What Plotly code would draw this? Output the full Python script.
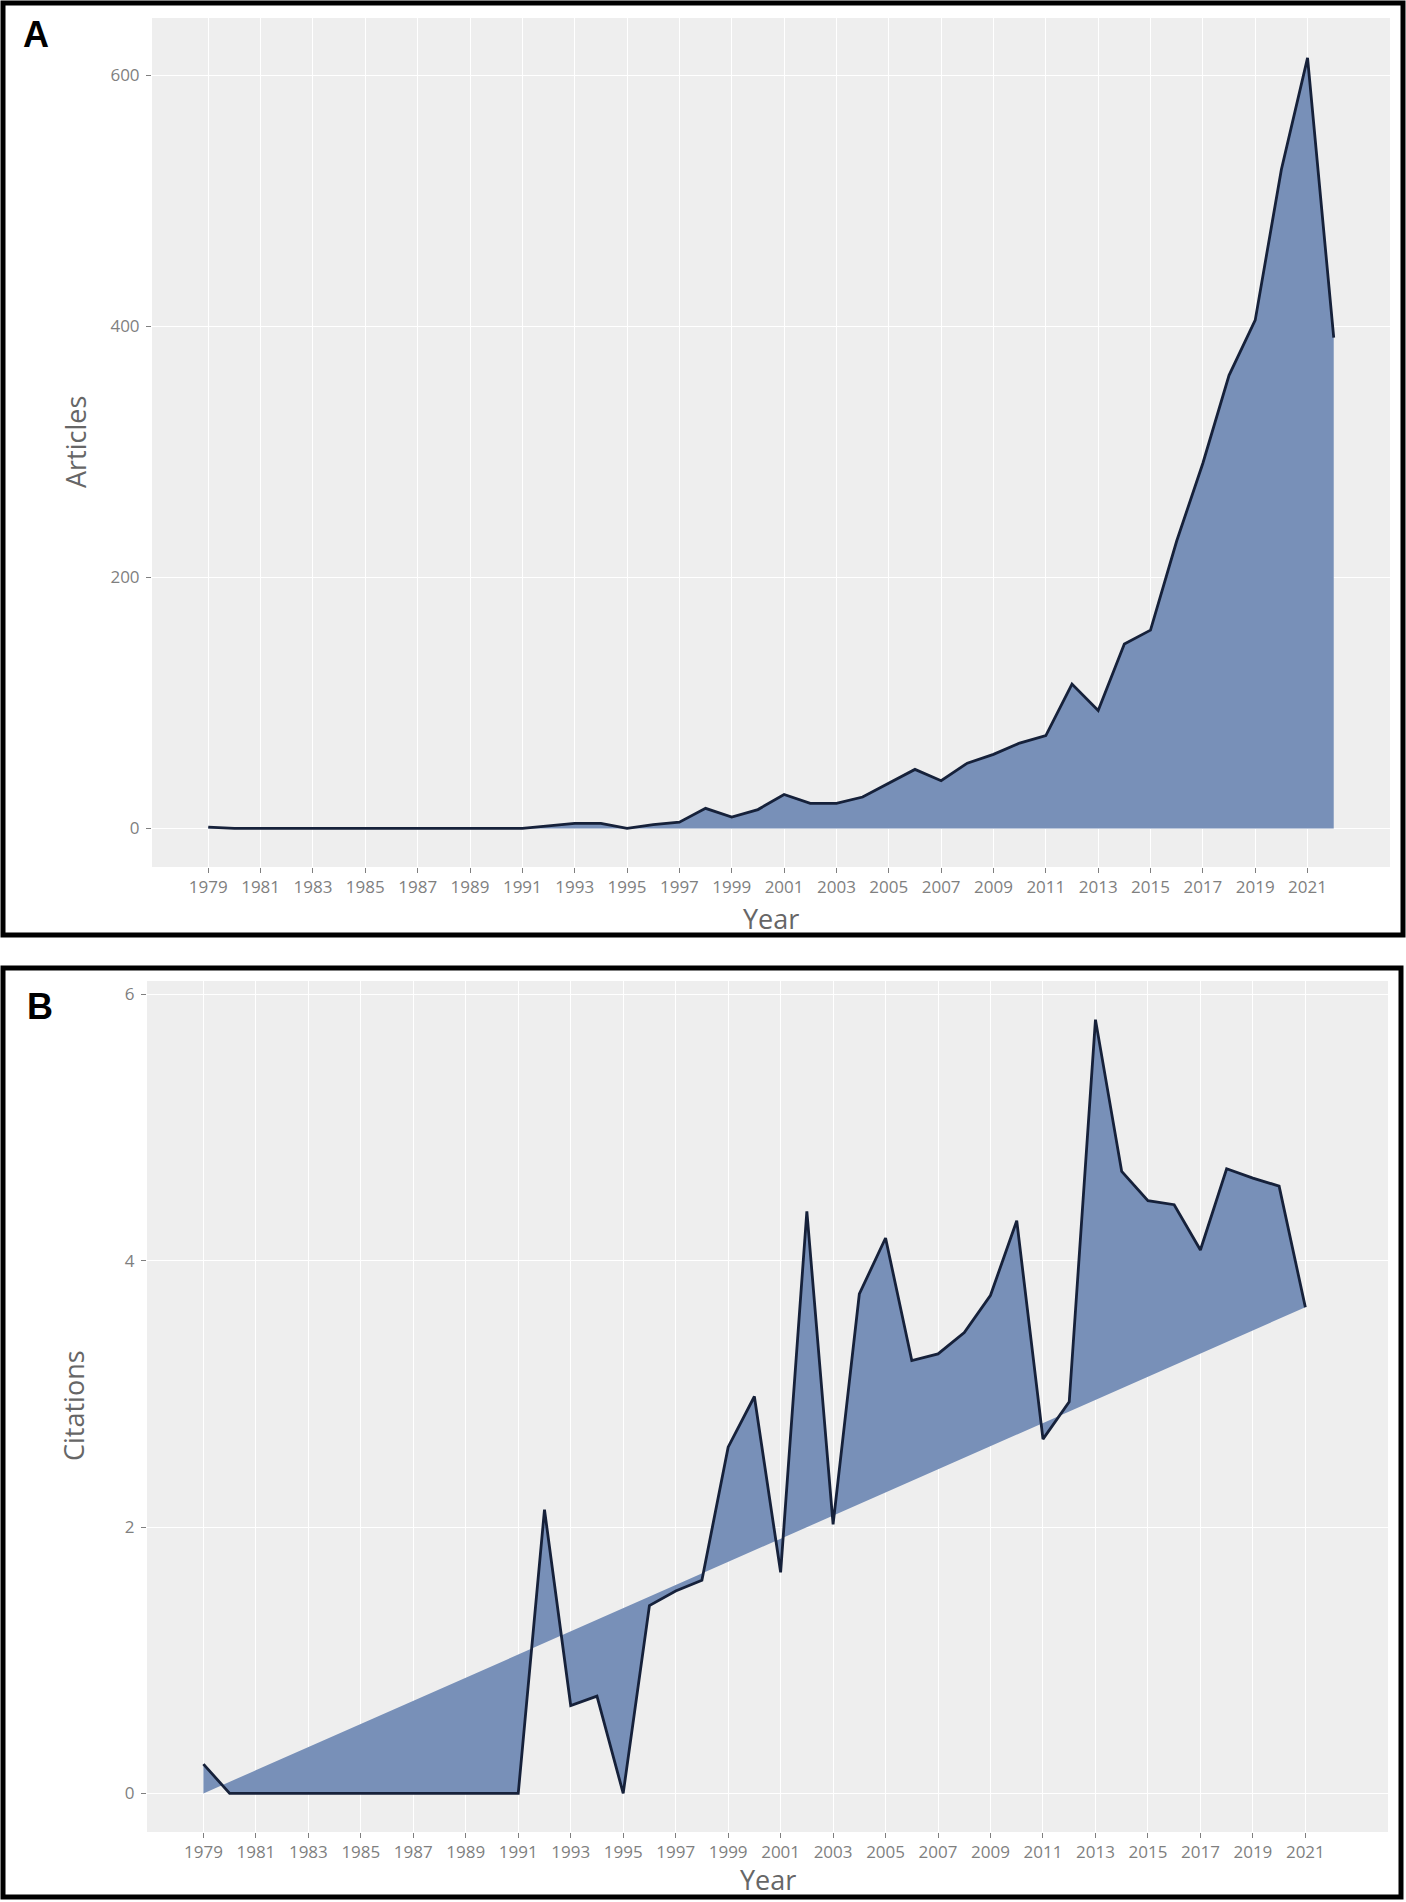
import plotly.graph_objects as go

# data
years_articles = list(range(1979, 2023))
articles = [1, 0, 0, 0, 0, 0, 0, 0, 0, 0, 0, 0, 0,
            2, 4, 4, 0, 3, 5, 16, 9, 15, 27, 20, 20, 25, 36, 47, 38, 52,
            59, 68, 74, 115, 94, 147, 158, 229, 291, 361, 405, 525, 614, 391]

years_citations = list(range(1979, 2022))
citations = [0.22, 0, 0, 0, 0, 0, 0, 0, 0, 0, 0, 0, 0,
             2.13, 0.66, 0.73, 0, 1.41, 1.52, 1.60, 2.60, 2.98, 1.66, 4.37,
             2.02, 3.75, 4.17, 3.25, 3.30, 3.46, 3.74, 4.30, 2.66, 2.94, 5.81,
             4.67, 4.45, 4.42, 4.08, 4.69, 4.62, 4.56, 3.65]

tick_years = list(range(1979, 2022, 2))
articles_ticks = [0, 200, 400, 600]
citations_ticks = [0, 2, 4, 6]

W, H = 1406, 1902
FILL = "#7890B8"
LINE = "#16213A"
GRID_BG = "#EEEEEE"
TICK_COL = "#7F7F7F"
TITLE_COL = "#666666"
FONT = "Open Sans, Noto Sans, sans-serif"

def px(x):
    return x / W

def py(y):
    return 1 - y / H

fig = go.Figure()

# panel A: articles per year, filled to zero
fig.add_trace(go.Scatter(x=years_articles, y=articles, mode="lines",
                         fill="tozeroy", fillcolor=FILL,
                         line=dict(color=LINE, width=2.8),
                         xaxis="x", yaxis="y", showlegend=False))

# panel B: citations, polygon closed back to the first year at zero
fig.add_trace(go.Scatter(x=[years_citations[0]] + years_citations,
                         y=[0] + citations, mode="lines", fill="toself",
                         fillcolor=FILL, line=dict(width=0, color=FILL),
                         xaxis="x2", yaxis="y2", showlegend=False,
                         hoverinfo="skip"))
fig.add_trace(go.Scatter(x=years_citations, y=citations, mode="lines",
                         line=dict(color=LINE, width=2.8),
                         xaxis="x2", yaxis="y2", showlegend=False))

xax = dict(range=[1976.85, 2024.15], tickmode="array", tickvals=tick_years,
           showgrid=True, gridcolor="white", gridwidth=1.2, zeroline=False,
           ticks="outside", ticklen=5, tickcolor=TICK_COL, showline=False,
           tickfont=dict(family=FONT, size=17, color=TICK_COL),
           automargin=False, fixedrange=True)

yax = dict(showgrid=True, gridcolor="white", gridwidth=1.2, zeroline=False,
           ticks="outside", ticklen=5, tickcolor=TICK_COL, showline=False,
           tickfont=dict(family=FONT, size=17, color=TICK_COL),
           ticklabelstandoff=3, automargin=False, fixedrange=True)

fig.update_layout(
    width=W, height=H,
    margin=dict(l=0, r=0, t=0, b=0),
    paper_bgcolor="white", plot_bgcolor=GRID_BG,
    xaxis=dict(xax, domain=[px(152), px(1390)], anchor="y"),
    yaxis=dict(yax, domain=[py(867), py(18)], anchor="x",
               range=[-30.75, 645.75], tickvals=articles_ticks),
    xaxis2=dict(xax, domain=[px(147), px(1388)], anchor="y2"),
    yaxis2=dict(yax, domain=[py(1832), py(981)], anchor="x2",
                range=[-0.29, 6.1], tickvals=citations_ticks),
)

# panel frames
fig.add_shape(type="rect", xref="paper", yref="paper",
              x0=px(3), x1=px(1403), y0=py(935), y1=py(3),
              line=dict(color="black", width=5), fillcolor="rgba(0,0,0,0)")
fig.add_shape(type="rect", xref="paper", yref="paper",
              x0=px(3), x1=px(1401), y0=py(1897), y1=py(968),
              line=dict(color="black", width=5), fillcolor="rgba(0,0,0,0)")

def label(text, x, y, size, color, angle=0, bold=False):
    fig.add_annotation(text="<b>%s</b>" % text if bold else text,
                       x=px(x), y=py(y), xref="paper", yref="paper",
                       showarrow=False, textangle=angle,
                       xanchor="center", yanchor="middle",
                       font=dict(family=FONT if not bold else "Liberation Sans Narrow, Arial, sans-serif",
                                 size=size, color=color))

label("A", 36, 35, 36, "black", bold=True)
label("B", 40, 1006, 36, "black", bold=True)
label("Articles", 75, 442, 27, TITLE_COL, angle=-90)
label("Year", 771, 918, 27, TITLE_COL)
label("Citations", 73, 1406, 27, TITLE_COL, angle=-90)
label("Year", 768, 1879, 27, TITLE_COL)

# the page body has an 8px default margin; drop it so the figure fills the window
fig.write_html("out.html", config={"displayModeBar": False},
               post_script="document.body.style.margin='0';"
                           "document.body.style.overflow='hidden';")
